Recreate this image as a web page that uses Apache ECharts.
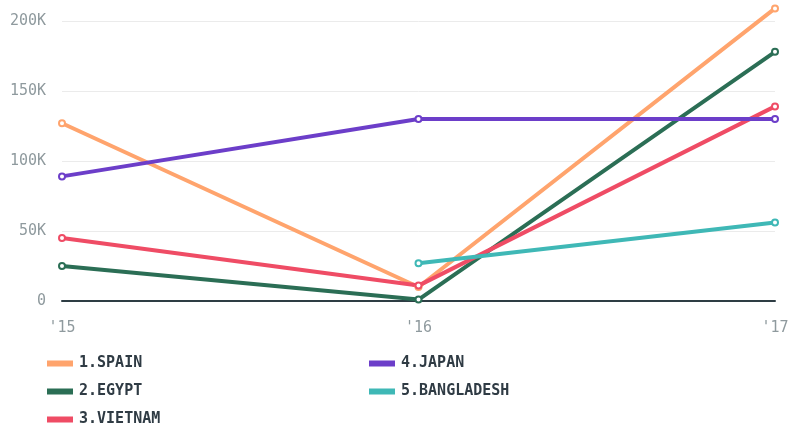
<!DOCTYPE html>
<html>
<head>
<meta charset="utf-8">
<script src="https://cdn.jsdelivr.net/npm/echarts@6/dist/echarts.min.js"></script>
<style>
  html, body { margin: 0; padding: 0; background: #fff; }
  #chart { width: 788px; height: 426px; }
</style>
</head>
<body>
<div id="chart"></div>
<script>
const years = ["'15", "'16", "'17"]
const spain = [127000, 10000, 209000]
const egypt = [25000, 1000, 178000]
const vietnam = [45000, 11000, 139000]
const japan = [89000, 130000, 130000]
const bangladesh = [null, 27000, 56000]
const yTicks = [0, 50000, 100000, 150000, 200000]

const colors = {
  spain: '#ffa46d',
  egypt: '#2b6e55',
  vietnam: '#ef4c65',
  japan: '#6c3ec9',
  bangladesh: '#3fb8b6'
}

const font = 'DejaVu Sans Mono'

function lineSeries(name, data, color) {
  return {
    name: name,
    type: 'line',
    data: data,
    color: color,
    clip: false,
    symbol: 'emptyCircle',
    symbolSize: 6,
    showSymbol: true,
    lineStyle: { width: 4, color: color },
    itemStyle: { color: color, borderColor: color, borderWidth: 4 },
    emphasis: { disabled: true }
  }
}

const legendBase = {
  orient: 'vertical',
  top: 356,
  height: 90,
  padding: 0,
  itemGap: 13,
  itemWidth: 24,
  itemHeight: 4,
  icon: 'rect',
  textStyle: { fontFamily: font, fontSize: 15, fontWeight: 'bold', color: '#2f3b44', padding: [0, 0, 0, 2] }
}

const chart = echarts.init(document.getElementById('chart'))
chart.setOption({
  animation: false,
  grid: { left: 62, right: 13, top: 21, bottom: 125, containLabel: false, outerBoundsMode: 'none' },
  legend: [
    Object.assign({}, legendBase, { left: 47, data: ['1.SPAIN', '2.EGYPT', '3.VIETNAM'] }),
    Object.assign({}, legendBase, { left: 369, data: ['4.JAPAN', '5.BANGLADESH'] })
  ],
  xAxis: {
    type: 'category',
    data: years,
    boundaryGap: false,
    axisLine: { show: true, lineStyle: { color: '#2e3d44', width: 2 } },
    axisTick: { show: false },
    axisLabel: { fontFamily: font, fontSize: 15, color: '#8f9a9e', margin: 20 }
  },
  yAxis: {
    type: 'value',
    min: yTicks[0],
    max: yTicks[yTicks.length - 1],
    interval: yTicks[1] - yTicks[0],
    axisLine: { show: false },
    axisTick: { show: false },
    splitLine: { lineStyle: { color: '#ebebeb', width: 1 } },
    axisLabel: {
      fontFamily: font, fontSize: 15, color: '#8f9a9e', margin: 16,
      formatter: v => v === 0 ? '0' : (v / 1000) + 'K'
    }
  },
  series: [
    lineSeries('1.SPAIN', spain, colors.spain),
    lineSeries('2.EGYPT', egypt, colors.egypt),
    lineSeries('3.VIETNAM', vietnam, colors.vietnam),
    lineSeries('4.JAPAN', japan, colors.japan),
    lineSeries('5.BANGLADESH', bangladesh, colors.bangladesh)
  ]
})
</script>
</body>
</html>
